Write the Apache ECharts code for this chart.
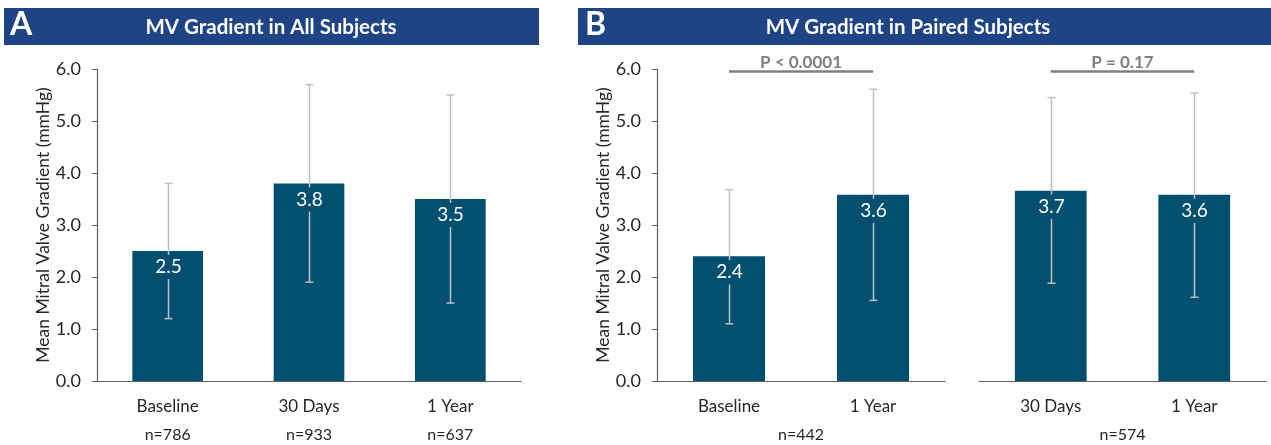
<!DOCTYPE html>
<html>
<head>
<meta charset="utf-8">
<script src="https://cdn.jsdelivr.net/npm/echarts@6/dist/echarts.min.js"></script>
<style>
html,body{margin:0;padding:0;background:#fff;}
#chart{width:1271px;height:445px;}
</style>
</head>
<body>
<div id="chart"></div>
<script>
// ---- Data ----
var panelTitles = ['MV Gradient in All Subjects', 'MV Gradient in Paired Subjects'];
var panelLetters = ['A', 'B'];
var yAxisTitle = 'Mean Mitral Valve Gradient (mmHg)';
var yTicks = [0, 1, 2, 3, 4, 5, 6];

var catsA = ['Baseline', '30 Days', '1 Year'];
var meanA = [2.5, 3.8, 3.5];
var lowA = [1.2, 1.9, 1.5];
var highA = [3.8, 5.7, 5.5];
var nA = ['n=786', 'n=933', 'n=637'];

var catsB1 = ['Baseline', '1 Year'];
var meanB1 = [2.4, 3.58];
var lowB1 = [1.1, 1.55];
var highB1 = [3.68, 5.61];
var nB1 = ['n=442'];

var catsB2 = ['30 Days', '1 Year'];
var meanB2 = [3.66, 3.58];
var lowB2 = [1.88, 1.61];
var highB2 = [5.45, 5.54];
var nB2 = ['n=574'];

var pLabels = ['P < 0.0001', 'P = 0.17'];
var bracketLevel = 5.96;

// ---- Styles ----
var FONT = 'Lato, "Open Sans", sans-serif';
var BAR = '#034F70';
var HEADER = '#1E4485';
var ERR = '#BFBFBF';
var AXIS = '#5f5f5f';
var TXT = '#262626';

var chart = echarts.init(document.getElementById('chart'), null, {renderer: 'canvas'});

var grids = [
  {left: 97, top: 69, width: 424, height: 312},
  {left: 657, top: 69, width: 288, height: 312},
  {left: 979, top: 69, width: 287, height: 312}
];

function catAxis(gi, cats) {
  return {
    type: 'category', gridIndex: gi, data: cats,
    axisLine: {show: true, lineStyle: {color: AXIS, width: 1.2}},
    axisTick: {show: false},
    axisLabel: {color: TXT, fontSize: 17, fontFamily: FONT, margin: 17}
  };
}
function nAxis(gi, labels) {
  return {
    type: 'category', gridIndex: gi, data: labels, position: 'bottom', offset: 29,
    axisLine: {show: false}, axisTick: {show: false},
    axisLabel: {color: TXT, fontSize: 16, fontFamily: FONT, margin: 17}
  };
}
function valAxis(gi, showAxis) {
  return {
    type: 'value', gridIndex: gi, min: yTicks[0], max: yTicks[yTicks.length - 1], interval: 1,
    show: showAxis,
    name: showAxis ? yAxisTitle : '', nameLocation: 'middle', nameGap: 45,
    nameTextStyle: {color: TXT, fontSize: 17.5, fontFamily: FONT},
    axisLine: {show: true, lineStyle: {color: AXIS, width: 1.2}},
    axisTick: {show: true, length: 5, lineStyle: {color: AXIS}},
    splitLine: {show: false},
    axisLabel: {color: TXT, fontSize: 18, fontFamily: FONT, margin: 16,
      formatter: function (v) { return v.toFixed(1); }}
  };
}

function barSeries(xi, yi, vals, markText) {
  var s = {
    type: 'bar', xAxisIndex: xi, yAxisIndex: yi, data: vals,
    barWidth: '50%', itemStyle: {color: BAR}, z: 2, silent: true
  };
  if (markText) {
    s.markLine = {
      silent: true, symbol: 'none', animation: false,
      lineStyle: {color: '#7F7F7F', width: 2.5, type: 'solid'},
      label: {show: true, position: 'middle', formatter: markText, color: '#7F7F7F',
        fontWeight: 'bold', fontSize: 17, fontFamily: FONT, distance: 0},
      data: [[{coord: [0, bracketLevel]}, {coord: [1, bracketLevel]}]]
    };
  }
  return s;
}

function errSeries(xi, yi, means, lows, highs) {
  var data = means.map(function (m, i) { return [i, lows[i], highs[i], m]; });
  return {
    type: 'custom', xAxisIndex: xi, yAxisIndex: yi, data: data, z: 5, silent: true,
    renderItem: function (params, api) {
      var i = api.value(0);
      var lo = api.coord([i, api.value(1)]);
      var hi = api.coord([i, api.value(2)]);
      var top = api.coord([i, api.value(3)]);
      var x = Math.round(lo[0]) + 0.5;
      var cap = 4;
      var labelY = top[1] + 16;
      var m = api.value(3);
      return {
        type: 'group',
        children: [
          {type: 'line', shape: {x1: x, y1: lo[1], x2: x, y2: hi[1]},
            style: {stroke: ERR, lineWidth: 1.5}},
          {type: 'line', shape: {x1: x - cap, y1: lo[1], x2: x + cap, y2: lo[1]},
            style: {stroke: ERR, lineWidth: 1.5}},
          {type: 'line', shape: {x1: x - cap, y1: hi[1], x2: x + cap, y2: hi[1]},
            style: {stroke: ERR, lineWidth: 1.5}},
          {type: 'rect', shape: {x: x - 18, y: labelY - 12, width: 36, height: 24},
            style: {fill: BAR}},
          {type: 'text', style: {text: m.toFixed(1), x: x, y: labelY,
            align: 'center', verticalAlign: 'middle', fill: '#ffffff',
            font: '19px ' + FONT}}
        ]
      };
    }
  };
}

var option = {
  animation: false,
  backgroundColor: '#ffffff',
  textStyle: {fontFamily: FONT},
  grid: grids,
  xAxis: [
    catAxis(0, catsA), catAxis(1, catsB1), catAxis(2, catsB2),
    nAxis(0, nA), nAxis(1, nB1), nAxis(2, nB2)
  ],
  yAxis: [valAxis(0, true), valAxis(1, true), valAxis(2, false)],
  series: [
    barSeries(0, 0, meanA),
    barSeries(1, 1, meanB1, pLabels[0]),
    barSeries(2, 2, meanB2, pLabels[1]),
    errSeries(0, 0, meanA, lowA, highA),
    errSeries(1, 1, meanB1, lowB1, highB1),
    errSeries(2, 2, meanB2, lowB2, highB2)
  ],
  graphic: [
    {type: 'rect', left: 4, top: 8, shape: {width: 535, height: 37}, style: {fill: HEADER}, z: 10},
    {type: 'rect', left: 578, top: 8, shape: {width: 693, height: 37}, style: {fill: HEADER}, z: 10},
    {type: 'text', left: 10, top: 9, z: 11,
      style: {text: panelLetters[0], fill: '#fff', font: 'bold 32px ' + FONT}},
    {type: 'text', left: 585, top: 9, z: 11,
      style: {text: panelLetters[1], fill: '#fff', font: 'bold 32px ' + FONT}},
    {type: 'text', x: 271, y: 27, z: 11,
      style: {text: panelTitles[0], fill: '#fff', font: 'bold 20.5px ' + FONT,
        align: 'center', verticalAlign: 'middle'}},
    {type: 'text', x: 908, y: 27, z: 11,
      style: {text: panelTitles[1], fill: '#fff', font: 'bold 20.5px ' + FONT,
        align: 'center', verticalAlign: 'middle'}}
  ]
};
chart.setOption(option);
</script>
</body>
</html>
